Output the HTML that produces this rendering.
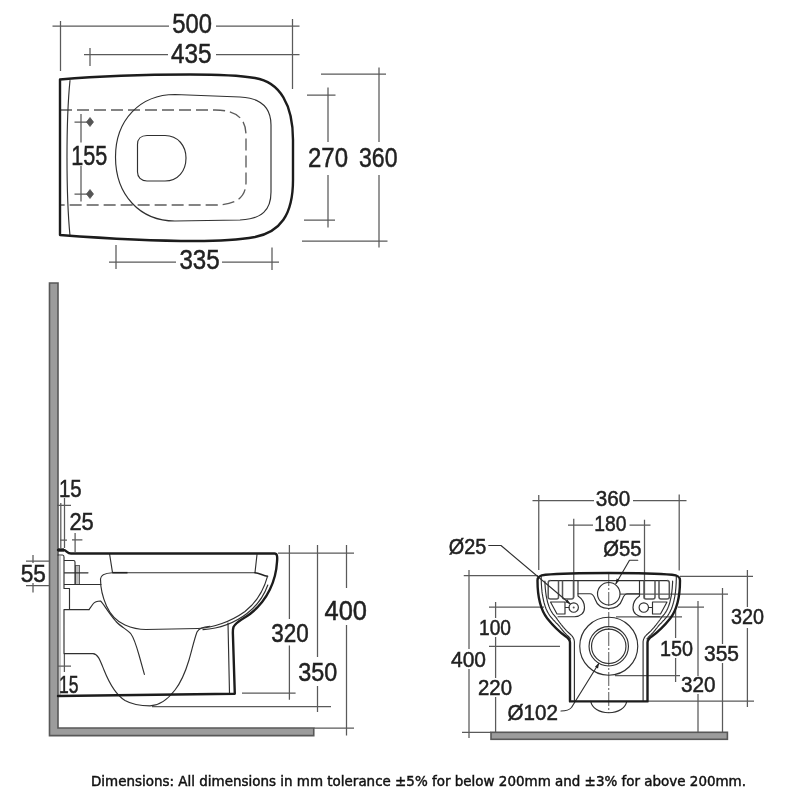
<!DOCTYPE html>
<html lang="en">
<head>
<meta charset="utf-8">
<title>Wall hung WC pan - technical dimensions</title>
<style>
html,body{margin:0;padding:0;background:#fff;}
body{width:800px;height:800px;overflow:hidden;position:relative;font-family:"Liberation Sans",sans-serif;}
svg{position:absolute;left:0;top:0;display:block;filter:blur(0.45px);}
.dim{stroke:#5a5a5a;stroke-width:1.25;fill:none;}
.thin{stroke:#303030;stroke-width:1.15;fill:none;stroke-linecap:round;stroke-linejoin:round;}
.thick{stroke:#1c1c1c;stroke-width:2.4;fill:none;stroke-linejoin:round;stroke-linecap:round;}
.dash{stroke:#5c5c5c;stroke-width:1.35;fill:none;stroke-dasharray:12 5;}
.t{font-family:"Liberation Sans",sans-serif;fill:#222;stroke:#222;stroke-width:0.5px;}
.big{font-size:27.5px;}
.mid{font-size:24.5px;}
.sm{font-size:22px;}
.wall{fill:#9c9c9c;stroke:#585858;stroke-width:1.6;}
.cap{font-family:"DejaVu Sans","Liberation Sans",sans-serif;font-size:13.4px;fill:#111;stroke:#111;stroke-width:0.45px;}
</style>
</head>
<body>
<svg width="800" height="800" viewBox="0 0 800 800">
<rect x="0" y="0" width="800" height="800" fill="#fff"/>

<!-- ===================== TOP VIEW ===================== -->
<g id="topview">
  <!-- 500 dimension -->
  <path class="dim" d="M52.5,26 H169 M216,26 H299.5 M60.5,21 V71 M292.5,19 V89"/>
  <!-- 435 dimension -->
  <path class="dim" d="M84,54.5 H168 M216,54.5 H299.5 M90,48 V66"/>
  <!-- 360 dimension -->
  <path class="dim" d="M321,74 H386 M302,241 H387.5 M379,67.5 V142 M379,175 V247.5"/>
  <!-- 270 dimension -->
  <path class="dim" d="M307,95 H335.5 M304,220 H335 M328,87.5 V142 M328,175 V227.5"/>
  <!-- 335 dimension -->
  <path class="dim" d="M109,262 H176 M222,262 H279 M116,245 V269 M272,247.5 V270"/>
  <!-- 155 dimension -->
  <path class="dim" d="M81,114 V142.5 M81,166 V201.5 M74.5,122 H90 M74.5,194 H90"/>
  <path d="M90,117.5 L93.5,122 L90,126.5 L86.5,122 Z M90,189.5 L93.5,194 L90,198.5 L86.5,194 Z" fill="#555" stroke="#555" stroke-width="0.8"/>

  <!-- dashed hidden outline -->
  <path class="dash" d="M60,110 H215 C238,110 246,120 246,135 V182 C246,196 238,205 215,205 H60"/>
  <!-- inner left line -->
  <path class="thin" d="M70,80.5 C66,120 66,195 70,235.5"/>
  <!-- bowl contour -->
  <path class="thin" d="M175,94.5 L240,97 C262,98 271,108 271,125 V192 C271,210 262,219 240,220 L175,221 C140,221 115.5,195 115.5,157 C115.5,120 140,94.5 175,94.5 Z"/>
  <!-- small D -->
  <path class="thin" d="M147,135.5 H165 C178,135.5 186,146 186,158 C186,171 178,181 165,181 H147 C141,181 137.5,177 137.5,172 V144.5 C137.5,139 141,135.5 147,135.5 Z"/>
  <!-- outer thick outline -->
  <path class="thick" d="M60,79.5 C100,76 150,74.5 190,74.5 C220,74.5 240,75.5 255,78 C280,82 293,105 293,140 V180 C293,215 280,232 255,237 C235,240.5 215,241 195,241 C150,241 100,238 60,235 Z"/>

  <text class="t big" x="172.3" y="32.8" textLength="39.7" lengthAdjust="spacingAndGlyphs">500</text>
  <text class="t big" x="171" y="62.8" textLength="40.6" lengthAdjust="spacingAndGlyphs">435</text>
  <text class="t big" x="71.2" y="164.6" textLength="36" lengthAdjust="spacingAndGlyphs">155</text>
  <text class="t big" x="308" y="167.2" textLength="40" lengthAdjust="spacingAndGlyphs">270</text>
  <text class="t big" x="359" y="167.2" textLength="38.5" lengthAdjust="spacingAndGlyphs">360</text>
  <text class="t big" x="179.4" y="269" textLength="40.3" lengthAdjust="spacingAndGlyphs">335</text>
</g>

<!-- ===================== SIDE VIEW ===================== -->
<g id="sideview">
  <!-- wall + floor -->
  <path class="wall" d="M49.5,283 H58 V728 H313.75 V735.6 H49.5 Z"/>

  <!-- dimension lines -->
  <path class="dim" d="M346.5,545 V588 M346.5,625 V735.6 M278,553 H354 M314,728 H354"/>
  <path class="dim" d="M317.5,545 V657 M317.5,686 V712 M152,706.7 H331"/>
  <path class="dim" d="M289.4,545 V619 M289.4,645.5 V699.7 M242,693 H295.6"/>
  <path class="dim" d="M64.5,498 V548 M60.8,503 V548 M60,540 H67 M75.1,533 V552 M72,539.9 H82.4"/>
  <path class="dim" d="M64.4,654 V672 M58,666 H71 M57,505.4 H71"/>
  <path d="M60,556 V695" stroke="#777" stroke-width="0.8" fill="none"/>
  <path class="dim" d="M26,561 H49.5 M26,585.5 H49.5 M33,555 V563 M33,583 V592.5"/>

  <!-- fixing -->
  <rect x="75.5" y="565.5" width="4" height="19" fill="#bdbdbd" stroke="#555" stroke-width="0.9"/>
  <path class="thin" d="M64.5,560.5 H73.5 Q75,560.5 75,562 V584.5 M64.5,572.8 H88 M64.5,584.5 H101"/>
  <!-- back profile & trap -->
  <path class="thin" d="M58,555 H62.5 Q64,555 64,557 V588.5 H69.5 V609.6 M89,609.6 H64 V653.6 H93 C98,654 100,660 104,670 C110,685 116,695 125,700.5 C133,705 142,705.8 150,705.8 C160,705.8 168,699 175,690 C182,681 186,670 189,660 C192,650 194,640 197,632 C199,628 203,627 210,626.3"/>
  <!-- hump & outer bowl line -->
  <path class="thin" d="M89,609.6 L93,604 C95,601.5 98,601 100.5,601 C103,603 108,612 116,621.5 C121,627 128,630 131,634 C134,638 137,648 139,655 L144.4,674.4"/>
  <!-- seat -->
  <path class="thin" d="M109.5,553.5 L112.5,572.7 H255 M257,554.5 L255,572.5"/>
  <path d="M112.5,572.7 H127.5" stroke="#222" stroke-width="1.6" fill="none"/>
  <path d="M255,572.7 C259,573 263,575.5 267.5,576.3" stroke="#222" stroke-width="1.6" fill="none" stroke-linecap="round"/>
  <!-- bowl inner contour -->
  <path class="thin" d="M112.5,572.7 C106,573 100.5,574 100.5,579 C100.5,590 103,598 106.5,606 C111,616 118,622 125,625 C133,628.5 140,629.5 146,629.5 L198,628.5 C213,628 231,621.5 245,611.5 C255,603.5 263.5,591 267.5,576.3"/>
  <path class="thin" d="M203,629.6 C220,628.5 234,623.5 247,613.5 C256,606.5 264,596 267.8,585"/>
  <!-- pedestal inner -->
  <path class="thin" d="M228,623 L229.5,693.5"/>
  <!-- thick outline -->
  <path class="thick" d="M58,550 H63.5 C66.5,550 67,553.5 71,553.5 H274.5 C277,553.5 277.6,556 277,562 C276,580 268,600 250,614 C244,618.5 236,621.5 233.5,627 C232.8,629 232.8,631 232.9,634 L234.8,693.8 L58,696"/>
  <path d="M58,550 H64" stroke="#1c1c1c" stroke-width="3.2" fill="none"/>

  <text class="t mid" x="58.9" y="496.5" textLength="22.7" lengthAdjust="spacingAndGlyphs">15</text>
  <text class="t mid" x="69.4" y="529.9" textLength="24.4" lengthAdjust="spacingAndGlyphs">25</text>
  <text class="t mid" x="20.7" y="581.7" textLength="25.2" lengthAdjust="spacingAndGlyphs">55</text>
  <text class="t mid" x="59" y="693" textLength="19.5" lengthAdjust="spacingAndGlyphs">15</text>
  <text class="t big" x="324.5" y="620" textLength="42.5" style="font-size:27.5px" lengthAdjust="spacingAndGlyphs">400</text>
  <text class="t big" x="271.3" y="642.3" textLength="37.5" style="font-size:26px" lengthAdjust="spacingAndGlyphs">320</text>
  <text class="t big" x="298.3" y="681.3" textLength="39" style="font-size:26.5px" lengthAdjust="spacingAndGlyphs">350</text>
</g>

<!-- ===================== FRONT VIEW ===================== -->
<g id="frontview">
  <!-- floor -->
  <rect class="wall" x="491" y="732.3" width="236.4" height="7"/>

  <!-- dimension lines -->
  <path class="dim" d="M532.5,500.5 H594 M633,500.5 H686.5 M538.75,495 V570 M679.2,494.5 V570.5"/>
  <path class="dim" d="M568,525 H593 M629.5,525 H650.5 M573.75,518.75 V597.5 M644.5,519.75 V599"/>
  <path class="dim" d="M463.75,575.5 H538 M469,570 V649 M469,669 V738 M462,732.4 H491"/>
  <path class="dim" d="M495.6,602 V618 M495.6,637 V678 M495.6,697 V732 M489,607 H544 M489,646.4 H560"/>
  <path class="dim" d="M680,576.4 H753 M747.4,570 V607 M747.4,628 V707 M648,701 H754"/>
  <path class="dim" d="M620,594 H728 M722.5,588 V644 M722.5,663 V732"/>
  <path class="dim" d="M678,607 H704 M698,601 V676 M698,694 V732"/>
  <path class="dim" d="M675.6,610 V638 M675.6,658 V682 M616,616.8 H682 M615,675.5 H680"/>
  <!-- centre line -->
  <path d="M608.75,572 V713" stroke="#444" stroke-width="0.9" fill="none" stroke-dasharray="14 2 2 2"/>

  <!-- recess outline -->
  <path class="thin" d="M550.5,580.6 H667"/>
  <!-- innermost lines (recess sides -> inner verticals) -->
  <path class="thin" d="M544.9,581.0 L544.9,582.5 L545.0,584.0 L545.1,585.5 L545.2,587.0 L545.3,588.5 L545.5,590.0 L545.6,591.5 L545.8,592.9 L546.0,594.4 L546.2,595.8 L546.5,597.2 L546.8,598.6 L547.1,599.9 L547.4,601.3 L547.7,602.6 L548.1,603.8 L548.5,605.0 L548.9,606.2 L549.4,607.4 L549.8,608.5 L550.3,609.5 L550.8,610.5 L551.4,611.5 L551.9,612.4 L552.5,613.2 L553.1,614.1 L553.5,614.5 L554.0,615.1 L554.5,615.7 L555.0,616.3 L555.6,617.0 L556.1,617.7 L556.6,618.4 L557.2,619.2 L557.7,620.0 L558.3,620.7 L558.8,621.5 L559.4,622.2 L560.0,623.0 L560.6,623.7 L561.1,624.5 L561.7,625.2 L562.3,625.9 L562.9,626.6 L563.4,627.3 L564.0,627.9 L564.6,628.6 L565.1,629.2 L565.6,629.7 L566.1,630.3 L566.6,630.8 L567.1,631.3 L567.5,631.7 L567.9,632.1 L568.3,632.5 L568.4,632.6 L568.7,632.8 L568.9,633.1 L569.2,633.3 L569.4,633.5 L569.7,633.7 L570.0,634.0 L570.2,634.2 L570.5,634.5 L570.8,634.8 L571.1,635.0 L571.3,635.3 L571.6,635.6 L571.9,635.9 L572.2,636.2 L572.5,636.6 L572.7,636.9 L573.0,637.3 L573.2,637.7 L573.4,638.2 L573.6,638.6 L573.8,639.0 L574.0,639.5 L574.1,640.0 L574.2,640.5 L574.3,641.0 L574.4,641.5 L574.4,642.0 L574.4,642.5 L574.4,700.5"/>
  <path class="thin" d="M672.6,581.0 L672.6,582.5 L672.5,584.0 L672.4,585.5 L672.3,587.0 L672.2,588.5 L672.0,590.0 L671.9,591.5 L671.7,592.9 L671.5,594.4 L671.3,595.8 L671.0,597.2 L670.7,598.6 L670.4,599.9 L670.1,601.3 L669.8,602.6 L669.4,603.8 L669.0,605.0 L668.6,606.2 L668.1,607.4 L667.7,608.5 L667.2,609.5 L666.7,610.5 L666.1,611.5 L665.6,612.4 L665.0,613.2 L664.4,614.1 L664.0,614.5 L663.5,615.1 L663.0,615.7 L662.5,616.3 L661.9,617.0 L661.4,617.7 L660.9,618.4 L660.3,619.2 L659.8,620.0 L659.2,620.7 L658.7,621.5 L658.1,622.2 L657.5,623.0 L656.9,623.7 L656.4,624.5 L655.8,625.2 L655.2,625.9 L654.6,626.6 L654.1,627.3 L653.5,627.9 L652.9,628.6 L652.4,629.2 L651.9,629.7 L651.4,630.3 L650.9,630.8 L650.4,631.3 L650.0,631.7 L649.6,632.1 L649.2,632.5 L649.1,632.6 L648.8,632.8 L648.6,633.1 L648.3,633.3 L648.1,633.5 L647.8,633.7 L647.5,634.0 L647.3,634.2 L647.0,634.5 L646.7,634.8 L646.4,635.0 L646.2,635.3 L645.9,635.6 L645.6,635.9 L645.3,636.2 L645.0,636.6 L644.8,636.9 L644.5,637.3 L644.3,637.7 L644.1,638.2 L643.9,638.6 L643.7,639.0 L643.5,639.5 L643.4,640.0 L643.3,640.5 L643.2,641.0 L643.1,641.5 L643.1,642.0 L643.1,642.5 L643.1,700.5"/>
  <!-- middle lines -->
  <path class="thin" d="M541.2,576.5 L541.2,578.0 L541.2,579.6 L541.3,581.1 L541.3,582.6 L541.4,584.2 L541.5,585.7 L541.6,587.3 L541.7,588.8 L541.9,590.4 L542.0,591.9 L542.2,593.4 L542.5,594.9 L542.7,596.4 L543.0,597.9 L543.3,599.3 L543.6,600.8 L543.9,602.2 L544.3,603.5 L544.7,604.9 L545.1,606.2 L545.6,607.5 L546.0,608.7 L546.6,609.9 L547.1,611.1 L547.7,612.2 L548.3,613.3 L548.9,614.3 L549.5,615.3 L550.2,616.2 L550.7,616.8 L551.2,617.4 L551.8,618.1 L552.3,618.7 L552.9,619.4 L553.5,620.1 L554.2,620.7 L554.8,621.4 L555.5,622.1 L556.1,622.8 L556.8,623.5 L557.5,624.2 L558.1,624.8 L558.8,625.5 L559.4,626.3 L560.0,627.0 L560.5,627.8 L561.1,628.5 L561.7,629.2 L562.2,629.9 L562.8,630.6 L563.3,631.2 L563.8,631.8 L564.3,632.4 L564.8,632.9 L565.3,633.5 L565.8,633.9 L566.2,634.4 L566.6,634.8 L566.8,635.0 L567.0,635.2 L567.3,635.4 L567.5,635.6 L567.7,635.8 L568.0,636.0 L568.2,636.3 L568.4,636.5 L568.6,636.7 L568.8,636.9 L569.1,637.1 L569.3,637.4 L569.5,637.6 L569.7,637.8 L569.9,638.1 L570.1,638.3 L570.3,638.6 L570.5,638.9"/>
  <path class="thin" d="M676.3,576.5 L676.3,578.0 L676.3,579.6 L676.2,581.1 L676.2,582.6 L676.1,584.2 L676.0,585.7 L675.9,587.3 L675.8,588.8 L675.6,590.4 L675.5,591.9 L675.3,593.4 L675.0,594.9 L674.8,596.4 L674.5,597.9 L674.2,599.3 L673.9,600.8 L673.6,602.2 L673.2,603.5 L672.8,604.9 L672.4,606.2 L671.9,607.5 L671.5,608.7 L670.9,609.9 L670.4,611.1 L669.8,612.2 L669.2,613.3 L668.6,614.3 L668.0,615.3 L667.3,616.2 L666.8,616.8 L666.3,617.4 L665.7,618.1 L665.2,618.7 L664.6,619.4 L664.0,620.1 L663.3,620.7 L662.7,621.4 L662.0,622.1 L661.4,622.8 L660.7,623.5 L660.0,624.2 L659.4,624.8 L658.7,625.5 L658.1,626.3 L657.5,627.0 L657.0,627.8 L656.4,628.5 L655.8,629.2 L655.3,629.9 L654.7,630.6 L654.2,631.2 L653.7,631.8 L653.2,632.4 L652.7,632.9 L652.2,633.5 L651.7,633.9 L651.3,634.4 L650.9,634.8 L650.7,635.0 L650.5,635.2 L650.2,635.4 L650.0,635.6 L649.8,635.8 L649.5,636.0 L649.3,636.3 L649.1,636.5 L648.9,636.7 L648.7,636.9 L648.4,637.1 L648.2,637.4 L648.0,637.6 L647.8,637.8 L647.6,638.1 L647.4,638.3 L647.2,638.6 L647.0,638.9"/>
  <!-- slots -->
  <g stroke="#555" stroke-width="1.5" fill="none" stroke-linejoin="round">
    <path d="M644,580.6 V597 Q644,599 646,599 H653 Q655,599 655,597 V580.6"/>
    <path d="M659,580.6 V597 Q659,599 661,599 H667 Q669.3,599 669.3,597 V583 Q669.3,580.6 667,580.6"/>
    <path d="M573.5,580.6 V597 Q573.5,599 571.5,599 H564.5 Q562.5,599 562.5,597 V580.6"/>
    <path d="M558.5,580.6 V597 Q558.5,599 556.5,599 H550.5 Q548.2,599 548.2,597 V583 Q548.2,580.6 550.5,580.6"/>
  </g>
  <!-- lugs -->
  <path class="thin" d="M639.5,580.6 V596 C635,599 633,603 633,607.5 C633,613 637,616.7 643,616.7 H659.5" stroke-width="1.3"/>
  <path class="thin" d="M578,580.6 V596 C582.5,599 584.5,603 584.5,607.5 C584.5,613 580.5,616.7 574.5,616.7 H558" stroke-width="1.3"/>
  <circle class="thin" cx="643.8" cy="607.5" r="4.7"/>
  <circle class="thin" cx="573.7" cy="607.5" r="4.7"/>
  <circle cx="573.7" cy="607.5" r="1" fill="#555"/>
  <path class="thin" d="M652.5,602 H667 L660.5,614 H652.5 Z M648.5,607.5 H652.5"/>
  <path class="thin" d="M565,602 H550.5 L557,614 H565 Z M569,607.5 H565"/>
  <!-- shelf + arc around O55 -->
  <path class="thin" d="M578,593.75 H590 C593,593.75 594,596 595,599 C597,605 602,608.5 608.75,608.5 C615.5,608.5 620.5,605 622.5,599 C623.5,596 624.5,593.75 627.5,593.75 H639.5"/>
  <circle class="thin" cx="608.75" cy="593.75" r="11.25"/>
  <!-- big outlet circles -->
  <circle class="thin" cx="608.75" cy="646.25" r="29"/>
  <circle class="thin" cx="608.75" cy="646.25" r="19.7"/>
  <circle class="thin" cx="608.75" cy="646.25" r="17.2"/>
  <!-- trap bump -->
  <path class="thin" d="M590.75,701.4 C592,708 599,712.75 608.75,712.75 C618.5,712.75 625.5,708 626.75,701.4"/>

  <!-- leaders -->
  <path class="thin" d="M488.75,545.5 H501 L570,603.75"/>
  <path d="M570.6,604.3 L565.2,602.2 L567.4,599.6 Z" fill="#222"/>
  <path class="thin" d="M637.75,560.25 H629.5 L616,583.5"/>
  <path d="M615.5,584.4 L616.6,578.6 L619.6,580.3 Z" fill="#222"/>
  <path class="thin" d="M561,711 C566,711 569,710.5 571.5,707.5 L598.6,663.75"/>
  <path d="M599.2,662.8 L598,668.6 L595,666.8 Z" fill="#222"/>

  <!-- thick outline -->
  <path class="thick" d="M608.75,573 C627.5,573 655,573.2 672,574.8 C677.5,575.3 680,576.5 680,580.5 C680,593 678,608.4 670.2,618.5 C665.2,624.7 656.5,633 652,636.3 C649.5,638 647.5,639.5 647.5,642.5 V701.4 H570 V642.5 C570,639.5 568,638 565.5,636.3 C561,633 552.3,624.7 547.3,618.5 C539.5,608.4 537.5,593 537.5,580.5 C537.5,576.5 540,575.3 545.5,574.8 C562.5,573.2 590,573 608.75,573 Z"/>

  <text class="t sm" x="595.75" y="506" textLength="34.5" lengthAdjust="spacingAndGlyphs">360</text>
  <text class="t sm" x="594.25" y="531" textLength="32.25" lengthAdjust="spacingAndGlyphs">180</text>
  <text class="t sm" x="603.25" y="555.5" textLength="38.25" lengthAdjust="spacingAndGlyphs">Ø55</text>
  <text class="t sm" x="448.75" y="553.5" textLength="37.5" lengthAdjust="spacingAndGlyphs">Ø25</text>
  <text class="t sm" x="479" y="635" textLength="32" lengthAdjust="spacingAndGlyphs">100</text>
  <text class="t sm" x="451" y="667" textLength="35" lengthAdjust="spacingAndGlyphs">400</text>
  <text class="t sm" x="478" y="695" textLength="34" lengthAdjust="spacingAndGlyphs">220</text>
  <text class="t sm" x="507.6" y="720" textLength="50.4" lengthAdjust="spacingAndGlyphs">Ø102</text>
  <text class="t sm" x="660" y="656" textLength="33" lengthAdjust="spacingAndGlyphs">150</text>
  <text class="t sm" x="704" y="661" textLength="35" lengthAdjust="spacingAndGlyphs">355</text>
  <text class="t sm" x="681" y="692.4" textLength="34.6" lengthAdjust="spacingAndGlyphs">320</text>
  <text class="t sm" x="731" y="624.4" textLength="33" lengthAdjust="spacingAndGlyphs">320</text>
</g>

<!-- ===================== CAPTION ===================== -->
<text class="cap" x="91" y="785.7" textLength="655" lengthAdjust="spacingAndGlyphs">Dimensions: All dimensions in mm tolerance ±5% for below 200mm and ±3% for above 200mm.</text>

</svg>
</body>
</html>
